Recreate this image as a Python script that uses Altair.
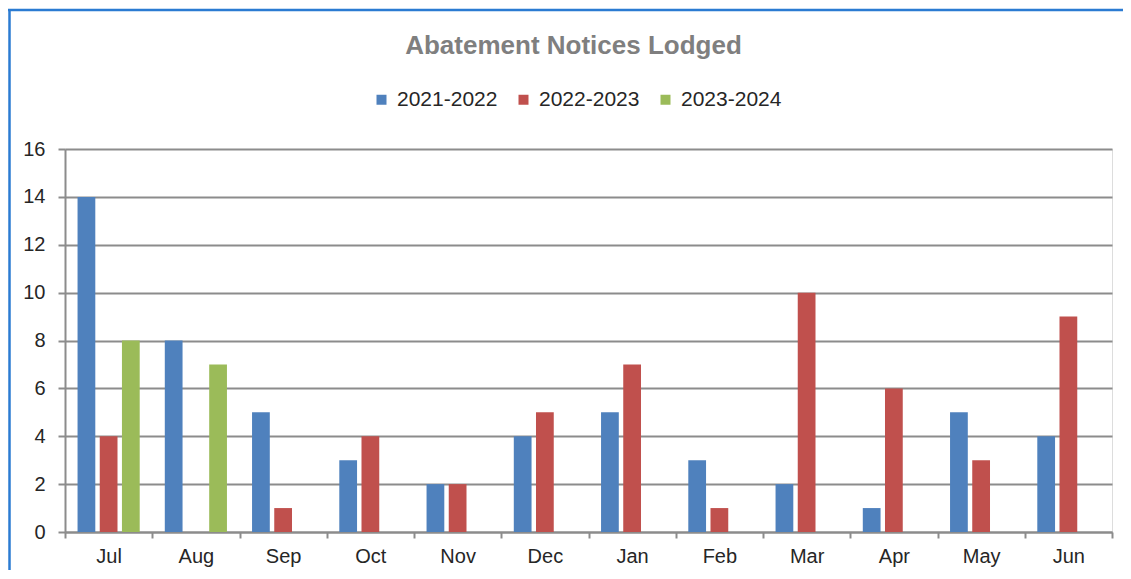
import altair as alt
import pandas as pd

months = ["Jul", "Aug", "Sep", "Oct", "Nov", "Dec", "Jan", "Feb", "Mar", "Apr", "May", "Jun"]
series = ["2021-2022", "2022-2023", "2023-2024"]
v2122 = [14, 8, 5, 3, 2, 4, 5, 3, 2, 1, 5, 4]
v2223 = [4, None, 1, 4, 2, 5, 7, 1, 10, 6, 3, 9]
v2324 = [8, 7, None, None, None, None, None, None, None, None, None, None]
colors = ["#4F81BD", "#C0504D", "#9BBB59"]

rows = []
for name, vals in zip(series, [v2122, v2223, v2324]):
    for m, v in zip(months, vals):
        if v is not None:
            rows.append({"Month": m, "Season": name, "Count": v})
df = pd.DataFrame(rows)

FONT = "Liberation Sans"
W, H = 1047, 383
PL, PT, PR, PB = 57, 141, 11, 38

bars = alt.Chart(df).mark_bar().encode(
    x=alt.X("Month:N", sort=months, title=None,
            scale=alt.Scale(paddingInner=0, paddingOuter=0),
            axis=alt.Axis(labelAngle=0, tickBand="extent", grid=False,
                          domainColor="#8C8C8C", domainWidth=2,
                          tickColor="#8C8C8C", tickWidth=2, tickSize=6,
                          labelPadding=8, labelFontSize=20, labelFont=FONT,
                          labelColor="#262626")),
    xOffset=alt.XOffset("Season:N", sort=series,
                        scale=alt.Scale(domain=series, paddingInner=0.2, paddingOuter=0.565)),
    y=alt.Y("Count:Q", title=None,
            scale=alt.Scale(domain=[0, 16], nice=False),
            axis=alt.Axis(values=list(range(0, 17, 2)), grid=True,
                          gridColor="#8C8C8C", gridWidth=2,
                          domainColor="#8C8C8C", domainWidth=2,
                          tickColor="#8C8C8C", tickWidth=2, tickSize=7,
                          labelPadding=13, labelFontSize=20, labelFont=FONT,
                          labelColor="#262626")),
    color=alt.Color("Season:N", sort=series,
                    scale=alt.Scale(domain=series, range=colors),
                    legend=alt.Legend(title=None, orient="none", direction="horizontal",
                                      legendX=306, legendY=-60,
                                      symbolType="square", symbolSize=100,
                                      symbolStrokeWidth=0, labelOffset=5,
                                      columnPadding=15, labelFontSize=21,
                                      labelFont=FONT, labelColor="#262626")),
)

border_top = alt.Chart(alt.Data(values=[{}])).mark_rule(color="#2B7BD2", strokeWidth=2.5).encode(
    x=alt.value(-PL), x2=alt.value(W + PR), y=alt.value(-PT + 2)
)
border_left = alt.Chart(alt.Data(values=[{}])).mark_rule(color="#2B7BD2", strokeWidth=2.5).encode(
    x=alt.value(-PL + 1.5), y=alt.value(-PT + 2), y2=alt.value(H + PB)
)

chart = alt.layer(bars, border_top, border_left).properties(
    width=W, height=H,
    title=alt.Title("Abatement Notices Lodged", fontSize=26, font=FONT, fontWeight="bold",
                    color="#7F7F7F", anchor="middle", dx=-15, offset=-50),
    autosize=alt.AutoSizeParams(type="none"),
    padding={"left": PL, "top": PT, "right": PR, "bottom": PB},
).configure_view(stroke=None).configure(background="white")

chart.save("out.html", embed_options={"renderer": "svg", "actions": False})
